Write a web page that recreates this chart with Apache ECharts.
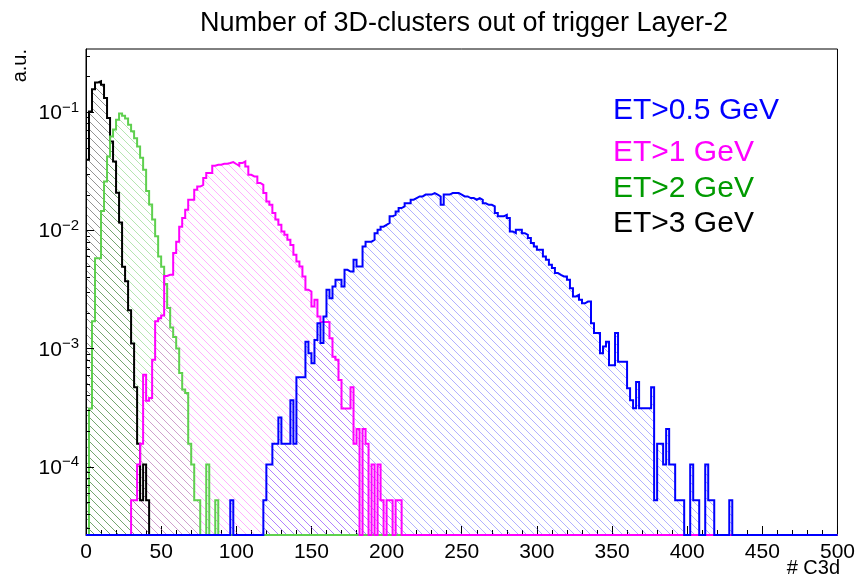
<!DOCTYPE html>
<html>
<head>
<meta charset="utf-8">
<script src="https://cdn.jsdelivr.net/npm/echarts@6/dist/echarts.min.js"></script>
<style>
  html, body { margin: 0; padding: 0; background: #ffffff; }
  #chart { width: 858px; height: 579px; }
</style>
</head>
<body>
<div id="chart"></div>
<script>
// Histogram binning: 250 bins of width 2 on [0, 500]
const BIN_WIDTH = 2;
const X_MIN = 0;
const X_MAX = 500;
const Y_MIN = 2.64e-5;
const Y_MAX = 0.341;

const xTickValues = [0, 50, 100, 150, 200, 250, 300, 350, 400, 450, 500];
const yDecadeExponents = [-4, -3, -2, -1];

const seriesNames = ['ET>0.5 GeV', 'ET>1 GeV', 'ET>2 GeV', 'ET>3 GeV'];

// ET>3 GeV, first bin index 0
const blackStart = 0;
const blackValues = [
  0.0395, 0.101, 0.156, 0.178, 0.182, 0.170, 0.131, 0.089, 0.0564, 0.0382,
  0.0207, 0.0116, 0.0049, 0.0037, 0.0021, 0.0011, 0.00047, 0.000156, 0.000052, 0.000104,
  0.000052
];

// ET>2 GeV, first bin index 1
const greenStart = 1;
const greenValues = [
  0.00031, 0.0017, 0.0058, 0.0058, 0.0145, 0.0258, 0.042, 0.062, 0.071, 0.086,
  0.097, 0.093, 0.088, 0.078, 0.0686, 0.060, 0.051, 0.041, 0.0325, 0.0215,
  0.0165, 0.0123, 0.0089, 0.006, 0.0049, 0.0035, 0.0022, 0.0015, 0.00125, 0.001,
  0.00062, 0.00045, 0.00042, 0.000156, 0.000104, 0.000052, 0.000052, 0, 0, 0.000104,
  0, 0, 0.000052
];

// ET>1 GeV, first bin index 15
const magentaStart = 15;
const magentaValues = [
  0.000052, 0.000052, 0.000104, 0.000156, 0.0006, 0.00036, 0.00038, 0.0008, 0.0017, 0.0018,
  0.0019, 0.0041, 0.0042, 0.0042, 0.0064, 0.008, 0.0107, 0.0127, 0.0149, 0.0181,
  0.0181, 0.0220, 0.0234, 0.0242, 0.0276, 0.0304, 0.0304, 0.0351, 0.0358, 0.0358,
  0.0365, 0.0365, 0.0370, 0.0377, 0.0363, 0.0351, 0.0370, 0.0382, 0.0346, 0.0294,
  0.0285, 0.0285, 0.0251, 0.0242, 0.0206, 0.0175, 0.0164, 0.0140, 0.0123, 0.0111,
  0.00975, 0.00914, 0.0083, 0.0075, 0.0062, 0.00543, 0.00493, 0.00406, 0.00313, 0.00303,
  0.00226, 0.00258, 0.00186, 0.00167, 0.00167, 0.00167, 0.00122, 0.00085, 0.0008, 0.00054,
  0.00031, 0.00031, 0.00031, 0.00047, 0.000156, 0.000208, 0, 0.000208, 0.000156, 0,
  0.000104, 0, 0.000104, 0.000052, 0, 0.000052, 0.000052, 0, 0.000052, 0.000052
];

// ET>0.5 GeV, first bin index 48
const blueStart = 48;
const blueValues = [
  0.000052, 0, 0, 0, 0, 0, 0, 0, 0, 0,
  0, 0.000052, 0.000104, 0.000104, 0.000156, 0.000156, 0.00026, 0.000156, 0.000156, 0.000156,
  0.000364, 0.000156, 0.00057, 0.00057, 0.00057, 0.00114, 0.00091, 0.00075, 0.00118, 0.00163,
  0.00111, 0.00186, 0.00313, 0.00266, 0.00334, 0.0038, 0.0038, 0.00334, 0.00462, 0.00447,
  0.00447, 0.00561, 0.00493, 0.00493, 0.00728, 0.008, 0.008, 0.0083, 0.00944, 0.0101,
  0.0107, 0.0111, 0.0115, 0.0131, 0.0135, 0.0144, 0.0154, 0.0159, 0.0169, 0.0169,
  0.0181, 0.0187, 0.0193, 0.0193, 0.0200, 0.0200, 0.0200, 0.0206, 0.0200, 0.0193,
  0.0164, 0.0200, 0.0200, 0.0206, 0.0206, 0.0206, 0.0200, 0.0193, 0.0193, 0.0187,
  0.0187, 0.0181, 0.0187, 0.0181, 0.0169, 0.0164, 0.0164, 0.0159, 0.0140, 0.0131,
  0.0131, 0.0135, 0.0127, 0.00975, 0.00944, 0.0101, 0.0101, 0.00944, 0.00914, 0.00857,
  0.00778, 0.00728, 0.00682, 0.00682, 0.00599, 0.00561, 0.00509, 0.00478, 0.00434, 0.00419,
  0.00406, 0.00406, 0.0038, 0.00323, 0.00275, 0.00284, 0.00258, 0.00241, 0.00249, 0.00249,
  0.00163, 0.00135, 0.00135, 0.00091, 0.00104, 0.00114, 0.00072, 0.00072, 0.00135, 0.00077,
  0.00077, 0.00077, 0.00046, 0.000364, 0.000312, 0.00052, 0.000312, 0.000312, 0.000312, 0.000312,
  0.00047, 0.000052, 0.000156, 0.000156, 0.000104, 0.000208, 0.000104, 0.000104, 0.000052, 0.000052,
  0.000052, 0, 0, 0.000104, 0.000052, 0.000052, 0, 0, 0.000104, 0.000052,
  0.000052, 0, 0, 0, 0, 0, 0.000052
];

const lineColors = ['#0000ff', '#ff00ff', '#5fd04f', '#000000'];
const hatchColors = ['rgba(50,50,255,0.38)', 'rgba(255,40,255,0.36)', 'rgba(70,190,60,0.4)', 'rgba(0,0,0,0.42)'];
const legendColors = ['#0000ff', '#ff00ff', '#009a00', '#000000'];

const FONT = '"Liberation Sans", Arial, Helvetica, sans-serif';
const LOG_MIN = Math.log10(Y_MIN);
const LOG_MAX = Math.log10(Y_MAX);
const NBINS = Math.round((X_MAX - X_MIN) / BIN_WIDTH);

// Diagonal "\" hatch tile used as a repeating fill pattern
function hatchPattern(color) {
  const s = 8;
  const c = document.createElement('canvas');
  c.width = s; c.height = s;
  const g = c.getContext('2d');
  g.strokeStyle = color;
  g.lineWidth = 1;
  g.beginPath();
  g.moveTo(-1, -1); g.lineTo(s + 1, s + 1);
  g.moveTo(s - 1, -1); g.lineTo(s + 1, 1);
  g.moveTo(-1, s - 1); g.lineTo(1, s + 1);
  g.stroke();
  return { image: c, repeat: 'repeat' };
}

// Full-range step points (log10 of content); empty bins sit on the axis floor
function stepPoints(start, values) {
  const pts = [];
  let last = LOG_MIN;
  for (let i = 0; i < NBINS; i++) {
    const j = i - start;
    const v = (j >= 0 && j < values.length) ? values[j] : 0;
    const y = v > 0 ? Math.log10(v) : LOG_MIN;
    pts.push([X_MIN + i * BIN_WIDTH, y]);
    last = y;
  }
  pts.push([X_MAX, last]);
  return pts;
}

function histSeries(idx, start, values) {
  return {
    name: seriesNames[idx],
    type: 'line',
    step: 'end',
    data: stepPoints(start, values),
    symbol: 'none',
    clip: false,
    lineStyle: { color: lineColors[idx], width: 2, join: 'miter' },
    areaStyle: { origin: 'start', color: hatchPattern(hatchColors[idx]), opacity: 1 },
    emphasis: { disabled: true },
    animation: false
  };
}

// Log-axis tick marks: long at decades, short at 2..9 × decade
const yTickData = [];
for (let d = -5; d <= 0; d++) {
  for (let k = 1; k <= 9; k++) {
    const v = d + Math.log10(k);
    if (v > LOG_MIN + 1e-6 && v < LOG_MAX - 1e-6) yTickData.push([X_MIN, v, k === 1 ? 8 : 4]);
  }
}

const chart = echarts.init(document.getElementById('chart'), null, { renderer: 'canvas' });

chart.setOption({
  animation: false,
  backgroundColor: '#ffffff',
  grid: { left: 86, right: 18, top: 49, bottom: 44, show: true, borderColor: '#000', borderWidth: 1, backgroundColor: 'transparent' },
  xAxis: {
    type: 'value', min: X_MIN, max: X_MAX, interval: 50,
    axisLine: { show: true, lineStyle: { color: '#000', width: 1 } },
    axisTick: { show: true, inside: true, length: 9, lineStyle: { color: '#000' } },
    minorTick: { show: true, splitNumber: 5, length: 5, lineStyle: { color: '#000' } },
    splitLine: { show: false },
    axisLabel: {
      color: '#000', fontFamily: FONT, fontSize: 21, margin: 7,
      formatter: v => xTickValues.indexOf(v) >= 0 ? String(v) : ''
    }
  },
  yAxis: {
    type: 'value', min: LOG_MIN, max: LOG_MAX,
    axisLine: { show: true, lineStyle: { color: '#000', width: 1 } },
    axisTick: { show: false },
    splitLine: { show: false },
    axisLabel: {
      margin: 7,
      formatter: v => {
        const e = Math.round(v);
        if (Math.abs(v - e) > 1e-6 || yDecadeExponents.indexOf(e) < 0) return '';
        return '{b|10}{s|\u2212' + String(-e) + '}';
      },
      rich: {
        b: { fontFamily: FONT, fontSize: 21, color: '#000', verticalAlign: 'bottom', lineHeight: 24 },
        s: { fontFamily: FONT, fontSize: 15, color: '#000', verticalAlign: 'top', lineHeight: 14 }
      }
    }
  },
  series: [
    histSeries(3, blackStart, blackValues),
    histSeries(2, greenStart, greenValues),
    histSeries(1, magentaStart, magentaValues),
    histSeries(0, blueStart, blueValues),
    {
      type: 'custom',
      data: yTickData,
      z: 10,
      silent: true,
      clip: false,
      renderItem: (params, api) => {
        const p = api.coord([api.value(0), api.value(1)]);
        const y = Math.round(p[1]) + 0.5;
        const x = Math.round(p[0]);
        return { type: 'line', shape: { x1: x, y1: y, x2: x + api.value(2), y2: y }, style: { stroke: '#000', lineWidth: 1 } };
      }
    }
  ],
  graphic: [
    { type: 'text', x: 464, y: 10, style: { text: 'Number of 3D-clusters out of trigger Layer-2', font: '27px ' + FONT, fill: '#000', textAlign: 'center', textVerticalAlign: 'top' } },
    { type: 'text', x: 20, y: 49, rotation: Math.PI / 2, style: { text: 'a.u.', font: '20px ' + FONT, fill: '#000', textAlign: 'right', textVerticalAlign: 'middle' } },
    { type: 'text', x: 840, y: 558, style: { text: '# C3d', font: '20px ' + FONT, fill: '#000', textAlign: 'right', textVerticalAlign: 'top' } },
    { type: 'text', x: 613, y: 126, style: { text: seriesNames[0], font: '30px ' + FONT, fill: legendColors[0], textAlign: 'left', textVerticalAlign: 'bottom' } },
    { type: 'text', x: 613, y: 168, style: { text: seriesNames[1], font: '30px ' + FONT, fill: legendColors[1], textAlign: 'left', textVerticalAlign: 'bottom' } },
    { type: 'text', x: 613, y: 204, style: { text: seriesNames[2], font: '30px ' + FONT, fill: legendColors[2], textAlign: 'left', textVerticalAlign: 'bottom' } },
    { type: 'text', x: 613, y: 239, style: { text: seriesNames[3], font: '30px ' + FONT, fill: legendColors[3], textAlign: 'left', textVerticalAlign: 'bottom' } }
  ]
});
</script>
</body>
</html>
